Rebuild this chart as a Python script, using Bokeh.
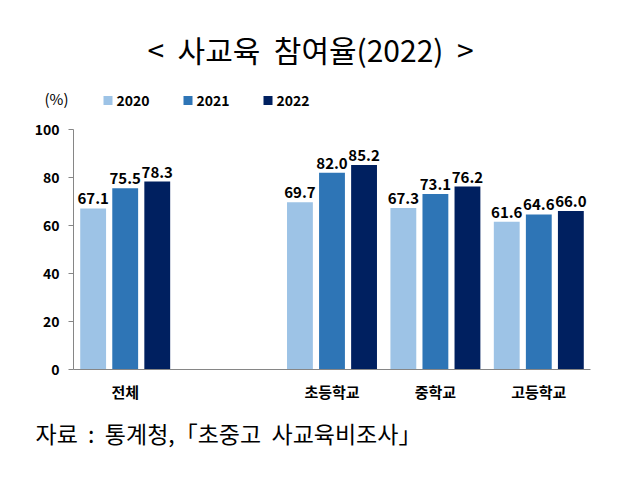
from bokeh.plotting import figure
from bokeh.layouts import column
from bokeh.models import FactorRange, Range1d, FixedTicker, ColumnDataSource
from bokeh.transform import dodge
from bokeh.core.properties import value
from bokeh.embed import file_html
from bokeh.resources import INLINE

# ---- data ----
axis_factors = ["전체", " ", "초등학교", "중학교", "고등학교"]
categories = ["전체", "초등학교", "중학교", "고등학교"]
years = ["2020", "2021", "2022"]
values_2020 = [67.1, 69.7, 67.3, 61.6]
values_2021 = [75.5, 82.0, 73.1, 64.6]
values_2022 = [78.3, 85.2, 76.2, 66.0]
y_ticks = [0, 20, 40, 60, 80, 100]

SP = "\u00a0" * 2
title_text = f"<{SP}사교육{SP}참여율(2022){SP}>"
unit_text = "(%)"
source_text = f"자료{SP}:{SP}통계청,「초중고{SP}사교육비조사」"

colors = ["#9DC3E6", "#2E75B6", "#002060"]
offsets = [-0.31, 0.0, 0.31]
FONT = "Noto Sans CJK KR"
W = 608


def blank_fig(h):
    f = figure(width=W, height=h, output_backend="svg", toolbar_location=None,
               x_range=Range1d(0, W), y_range=Range1d(h, 0),
               x_axis_type=None, y_axis_type=None, frame_align=False,
               min_border_left=0, min_border_right=0, min_border_top=0, min_border_bottom=0)
    f.outline_line_color = None
    f.grid.grid_line_color = None
    return f


# ---- header: title, unit, legend ----
top = blank_fig(112)
top.text(x=[310], y=[48], text=[title_text], text_align="center", text_baseline="middle",
         text_font=value(FONT), text_font_size="30px", text_color="#000000")
top.text(x=[44], y=[98], text=[unit_text], text_align="left", text_baseline="middle",
         text_font=value(FONT), text_font_size="15px", text_color="#000000")
leg_x = [107.5 + 80 * i for i in range(len(years))]
top.scatter(x=leg_x, y=[100] * len(years), marker="square", size=9,
            fill_color=colors, line_color=None)
top.text(x=[x + 8.5 for x in leg_x], y=[100] * len(years), text=years,
         text_align="left", text_baseline="middle",
         text_font=value(FONT), text_font_style="bold", text_font_size="14px",
         text_color="#000000")

# ---- main chart ----
p = figure(width=W, height=293, output_backend="svg", toolbar_location=None,
           x_range=FactorRange(factors=axis_factors, range_padding=0, factor_padding=0),
           y_range=Range1d(0, 100), frame_align=False,
           min_border_left=73, min_border_right=18, min_border_top=17, min_border_bottom=36)
p.outline_line_color = None
p.grid.grid_line_color = None

series = [values_2020, values_2021, values_2022]
for yr, vals, col, off in zip(years, series, colors, offsets):
    src = ColumnDataSource(dict(cat=categories, v=vals, lab=[f"{x:.1f}" for x in vals]))
    p.vbar(x=dodge("cat", off, range=p.x_range), top="v", bottom=0, width=0.25,
           source=src, fill_color=col, line_color=None)
    p.text(x=dodge("cat", off, range=p.x_range), y="v", text="lab", source=src,
           text_align="center", text_baseline="bottom", y_offset=-4,
           text_font=value(FONT), text_font_style="bold", text_font_size="15px",
           text_color="#000000")

p.yaxis.ticker = FixedTicker(ticks=y_ticks)
p.yaxis.axis_line_color = "#868686"
p.yaxis.major_tick_line_color = "#868686"
p.yaxis.major_tick_out = 5
p.yaxis.major_tick_in = 0
p.yaxis.minor_tick_line_color = None
p.yaxis.major_label_standoff = 9
p.yaxis.major_label_text_font = FONT
p.yaxis.major_label_text_font_style = "bold"
p.yaxis.major_label_text_font_size = "14px"
p.yaxis.major_label_text_color = "#000000"

p.xaxis.axis_line_color = "#868686"
p.xaxis.major_tick_line_color = None
p.xaxis.minor_tick_line_color = None
p.xaxis.major_label_standoff = 5
p.xaxis.major_label_text_font = FONT
p.xaxis.major_label_text_font_style = "bold"
p.xaxis.major_label_text_font_size = "15px"
p.xaxis.major_label_text_color = "#000000"

# ---- footer ----
bottom = blank_fig(67)
bottom.text(x=[35], y=[27], text=[source_text], text_align="left", text_baseline="middle",
            text_font=value(FONT), text_font_size="23px", text_color="#000000")

layout = column(top, p, bottom, spacing=0)
open("out.html", "w").write(file_html(layout, INLINE))
